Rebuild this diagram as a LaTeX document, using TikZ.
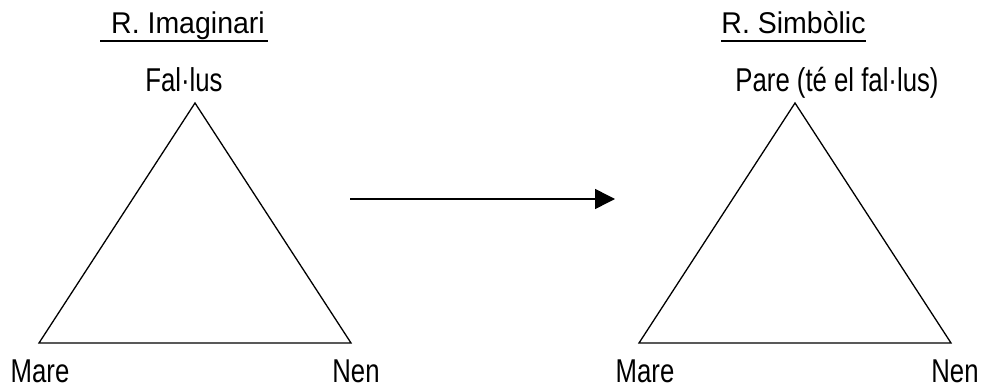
\documentclass[tikz,border=0pt]{standalone}
\usepackage{fontspec}
\setmainfont{Liberation Sans}
\newfontfamily\narrowfont[FakeStretch=0.78]{Liberation Sans}
\newfontfamily\titlefont[FakeStretch=0.95]{Liberation Sans}
\usetikzlibrary{arrows.meta}
\begin{document}
\begin{tikzpicture}[x=1pt,y=-1pt,
  titletext/.style={anchor=base,inner sep=0pt,font=\titlefont\fontsize{30}{35}\selectfont},
  labeltext/.style={anchor=base,inner sep=0pt,font=\narrowfont\fontsize{33}{38}\selectfont},
  edge/.style={line width=1.3pt,line join=miter},
  uline/.style={line width=2pt},
  bigarrow/.style={line width=1.5pt,-{Triangle[length=20pt,width=20pt]}}]
\useasboundingbox (0,0) rectangle (981,387);
% vertices
\coordinate (a1) at (195,103);
\coordinate (b1) at (39,343);
\coordinate (c1) at (351,343);
\coordinate (a2) at (795,103);
\coordinate (b2) at (639,343);
\coordinate (c2) at (951,343);
\coordinate (arrs) at (350,199);
\coordinate (arre) at (615,199);
% titles
\node[titletext] (t1) at (188,33.5) {R. Imaginari};
\node[titletext] (t2) at (793.5,33.5) {R. Simbòlic};
\coordinate (u1s) at (100,41.5); \coordinate (u1e) at (268,41.5);
\coordinate (u2s) at (721,41.5); \coordinate (u2e) at (866,41.5);
\draw[uline] (u1s) -- (u1e);
\draw[uline] (u2s) -- (u2e);
% labels
\node[labeltext] (fal) at (184,92) {Fal·lus};
\node[labeltext] (pare) at (837,92) {Pare (té el fal·lus)};
\node[labeltext] (mare1) at (40,382) {Mare};
\node[labeltext] (nen1) at (356,382) {Nen};
\node[labeltext] (mare2) at (645,382) {Mare};
\node[labeltext] (nen2) at (955,382) {Nen};
% triangles
\draw[edge] (a1) -- (b1) -- (c1) -- cycle;
\draw[edge] (a2) -- (b2) -- (c2) -- cycle;
% arrow
\draw[bigarrow] (arrs) -- (arre);
\end{tikzpicture}
\end{document}
